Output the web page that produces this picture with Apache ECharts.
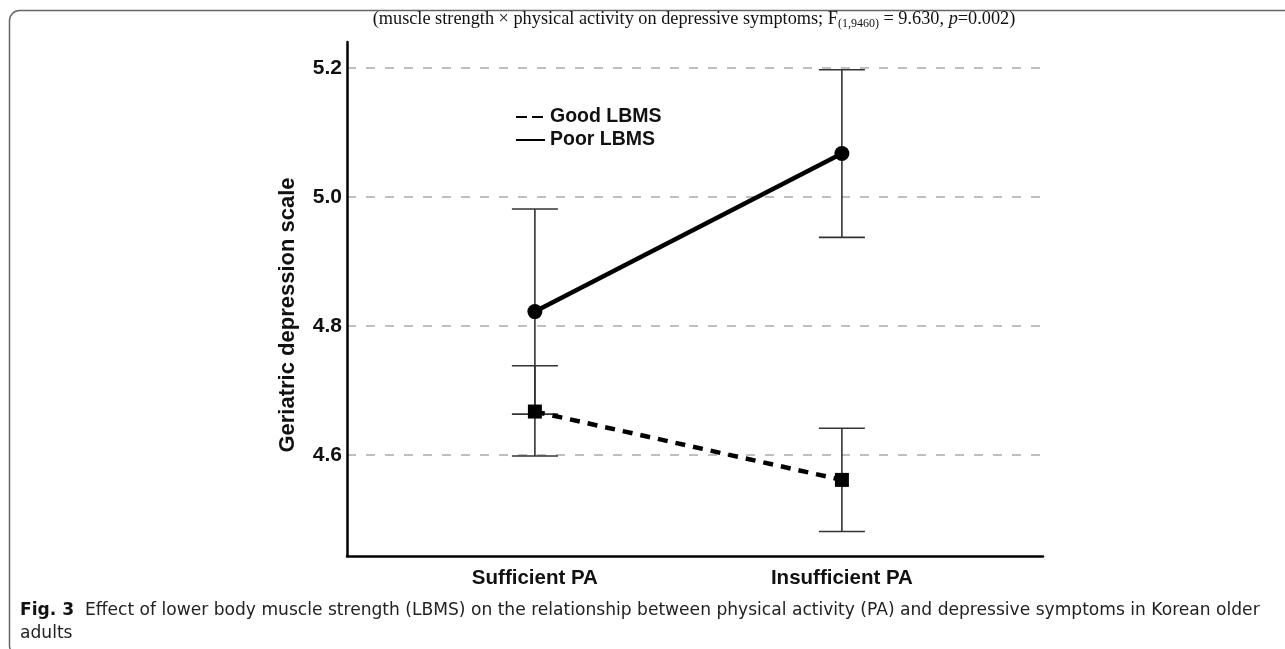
<!DOCTYPE html>
<html>
<head>
<meta charset="utf-8">
<script src="https://cdn.jsdelivr.net/npm/echarts@6/dist/echarts.min.js"></script>
<style>
html,body{margin:0;padding:0;background:#fff;}
#chart{width:1285px;height:649px;}
</style>
</head>
<body>
<div id="chart"></div>
<script>
// ---- data ----
const categories = ['Sufficient PA', 'Insufficient PA'];
const categoryPos = [1, 2];
const seriesNames = ['Good LBMS', 'Poor LBMS'];
const goodMean = [4.667, 4.561];
const goodLow  = [4.598, 4.481];
const goodHigh = [4.738, 4.641];
const poorMean = [4.822, 5.067];
const poorLow  = [4.663, 4.937];
const poorHigh = [4.981, 5.197];
const yTicks = [4.6, 4.8, 5.0, 5.2];
const titleText = 'muscle strength × physical activity on depressive symptoms; F';
const yAxisTitle = 'Geriatric depression scale';
const captionBold = 'Fig. 3';
const captionText = 'Effect of lower body muscle strength (LBMS) on the relationship between physical activity (PA) and depressive symptoms in Korean older\nadults';

const chart = echarts.init(document.getElementById('chart'), null, {renderer: 'canvas'});

function pts(means) { return categoryPos.map((x, i) => [x, means[i]]); }
function bars(lo, hi) { return categoryPos.map((x, i) => [x, lo[i], hi[i]]); }

function renderErr(params, api) {
  const x = api.value(0), lo = api.value(1), hi = api.value(2);
  const a = api.coord([x, lo]), b = api.coord([x, hi]);
  const hw = 23;
  const st = {stroke: '#333', lineWidth: 1.6};
  return {type: 'group', children: [
    {type: 'line', shape: {x1: a[0], y1: a[1], x2: b[0], y2: b[1]}, style: st},
    {type: 'line', shape: {x1: a[0] - hw, y1: a[1], x2: a[0] + hw, y2: a[1]}, style: st},
    {type: 'line', shape: {x1: b[0] - hw, y1: b[1], x2: b[0] + hw, y2: b[1]}, style: st}
  ]};
}

const sans = 'Liberation Sans, Arial, sans-serif';
const serif = 'Liberation Serif, Times New Roman, serif';

chart.setOption({
  animation: false,
  backgroundColor: '#fff',
  title: {
    text: '{n|(' + titleText + '}{s|(1,9460)}{n| = 9.630, }{i|p}{n|=0.002)}',
    left: 689, top: 4, textAlign: 'center',
    textStyle: {
      rich: {
        n: {fontFamily: serif, fontSize: 18.3, color: '#111', fontWeight: 'normal'},
        i: {fontFamily: serif, fontSize: 18.3, color: '#111', fontStyle: 'italic', fontWeight: 'normal'},
        s: {fontFamily: serif, fontSize: 12, color: '#111', verticalAlign: 'bottom', padding: [9, 0, 0, 0], fontWeight: 'normal'}
      }
    }
  },
  legend: {
    data: [
      {name: seriesNames[0], lineStyle: {type: [11, 5]}},
      {name: seriesNames[1]}
    ],
    orient: 'vertical',
    left: 510, top: 102,
    itemWidth: 29, itemHeight: 14, itemGap: 3,
    itemStyle: {opacity: 0},
    textStyle: {fontFamily: sans, fontWeight: 'bold', fontSize: 19.5, color: '#111'},
    selectedMode: false
  },
  grid: {left: 347, right: 242, top: 42, bottom: 93, containLabel: false},
  xAxis: {
    type: 'value', min: 0.388, max: 2.655,
    axisLine: {show: true, lineStyle: {color: '#000', width: 2.5}},
    axisTick: {show: false, customValues: categoryPos},
    splitLine: {show: false},
    axisLabel: {
      customValues: categoryPos,
      formatter: v => categories[categoryPos.indexOf(Math.round(v))] || '',
      fontFamily: sans, fontWeight: 'bold', fontSize: 20.5, color: '#111', margin: 12
    }
  },
  yAxis: {
    type: 'value', min: 4.443, max: 5.24,
    axisLine: {show: true, onZero: false, lineStyle: {color: '#000', width: 2.5}},
    axisTick: {show: false, customValues: yTicks},
    axisLabel: {
      customValues: yTicks,
      formatter: v => v.toFixed(1),
      fontFamily: sans, fontWeight: 'bold', fontSize: 21, color: '#111', margin: 5
    },
    splitLine: {show: true, lineStyle: {color: '#aaa', width: 1.5, type: [9, 10]}}
  },
  graphic: [
    {type: 'rect', shape: {x: 9.5, y: 10.5, width: 1400, height: 645, r: 10},
     style: {fill: 'none', stroke: '#666', lineWidth: 1.5}, silent: true},
    {type: 'text', x: 288, y: 315, rotation: Math.PI / 2,
     style: {text: yAxisTitle, fontFamily: sans, fontWeight: 'bold', fontSize: 22, fill: '#111',
             align: 'center', verticalAlign: 'middle'}},
    {type: 'text', x: 20, y: 599,
     style: {text: '{b|' + captionBold + '}  ' + captionText,
             fontFamily: 'DejaVu Sans, sans-serif', fontSize: 17.1, fill: '#222', lineHeight: 23,
             rich: {b: {fontFamily: 'DejaVu Sans, sans-serif', fontWeight: 'bold', fontSize: 17.1, fill: '#111', lineHeight: 23}}}}
  ],
  series: [
    {type: 'custom', name: 'errGood', renderItem: renderErr, data: bars(goodLow, goodHigh),
     encode: {x: 0, y: [1, 2]}, z: 1, silent: true},
    {type: 'custom', name: 'errPoor', renderItem: renderErr, data: bars(poorLow, poorHigh),
     encode: {x: 0, y: [1, 2]}, z: 1, silent: true},
    {type: 'line', name: seriesNames[0], data: pts(goodMean), symbol: 'rect', symbolSize: 14,
     itemStyle: {color: '#000'}, lineStyle: {color: '#000', width: 4.5, type: [10, 8]}, z: 3},
    {type: 'line', name: seriesNames[1], data: pts(poorMean), symbol: 'circle', symbolSize: 15,
     itemStyle: {color: '#000'}, lineStyle: {color: '#000', width: 4.5, type: 'solid'}, z: 3}
  ]
});
</script>
</body>
</html>
